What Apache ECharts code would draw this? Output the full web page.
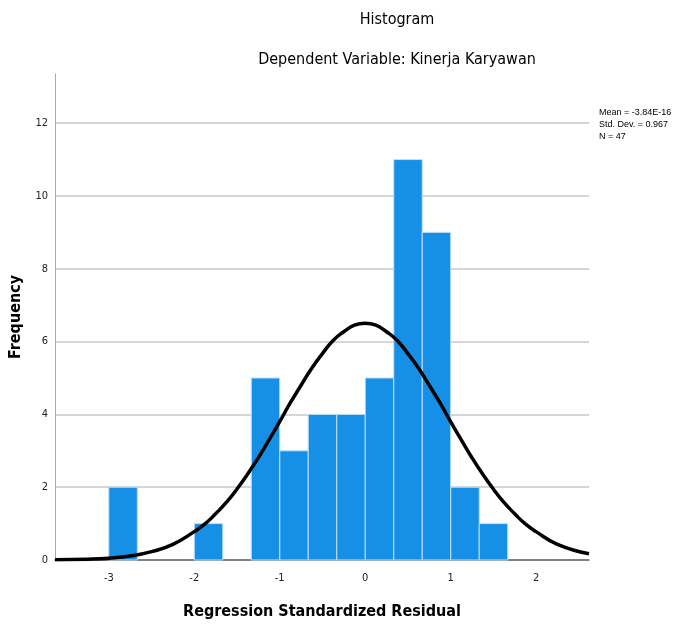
<!DOCTYPE html>
<html>
<head>
<meta charset="utf-8">
<script src="https://cdn.jsdelivr.net/npm/echarts@6/dist/echarts.min.js"></script>
<style>
html,body{margin:0;padding:0;background:#fff;}
#c{width:675px;height:628px;}
</style>
</head>
<body>
<div id="c"></div>
<script>
// Histogram bins: start of each bin, common bin width, and frequency
var binStarts = [-3.0, -2.0, -1.333, -0.999, -0.666, -0.332, 0.001, 0.335, 0.668, 1.002, 1.335];
var binWidth = 0.3335;
var frequencies = [2, 1, 5, 3, 4, 4, 5, 11, 9, 2, 1];
// Normal curve
var curveX = [-3.63, -3.25, -3, -2.75, -2.5, -2.25, -2, -1.875, -1.75, -1.625, -1.5, -1.375, -1.25, -1.125, -1, -0.875, -0.75, -0.625, -0.5, -0.375, -0.25, -0.125, 0,
              0.125, 0.25, 0.375, 0.5, 0.625, 0.75, 0.875, 1, 1.125, 1.25, 1.375, 1.5, 1.625, 1.75, 1.875, 2, 2.25, 2.62];
var curveY = [0.01, 0.023, 0.05, 0.11, 0.23, 0.43, 0.78, 0.99, 1.27, 1.58, 1.95, 2.36, 2.81, 3.30, 3.8, 4.32, 4.8, 5.27, 5.67, 6.03, 6.27, 6.45, 6.5,
              6.45, 6.27, 6.03, 5.67, 5.27, 4.8, 4.32, 3.8, 3.30, 2.81, 2.36, 1.95, 1.58, 1.27, 0.99, 0.78, 0.43, 0.17];
var yTicks = [0, 2, 4, 6, 8, 10, 12];
var statsText = ['Mean = -3.84E-16', 'Std. Dev. = 0.967', 'N = 47'];

var FONT = '"Liberation Sans Narrow", "DejaVu Sans Condensed", "Liberation Sans", Arial, sans-serif';

var barData = binStarts.map(function (s, i) { return [s, s + binWidth, frequencies[i]]; });
var lineData = curveX.map(function (x, i) { return [x, curveY[i]]; });

var chart = echarts.init(document.getElementById('c'), null, {renderer: 'canvas'});
chart.setOption({
  backgroundColor: '#fff',
  animation: false,
  title: [
    {text: 'Histogram', left: 392, top: 7, textAlign: 'center',
     textStyle: {fontFamily: FONT, fontSize: 16, fontWeight: 'normal', color: '#000'}},
    {text: 'Dependent Variable: Kinerja Karyawan', left: 392, top: 47, textAlign: 'center',
     textStyle: {fontFamily: FONT, fontSize: 16, fontWeight: 'normal', color: '#000'}},
    {text: statsText.join('\n'), left: 594, top: 102,
     textStyle: {fontFamily: 'Liberation Sans, Arial, sans-serif', fontSize: 9, fontWeight: 'normal', color: '#000', lineHeight: 12}}
  ],
  grid: {left: 55, right: 86, top: 74, bottom: 68, containLabel: false},
  xAxis: {
    type: 'value', min: -3.63, max: 2.62, minInterval: 1, maxInterval: 1,
    name: 'Regression Standardized Residual', nameLocation: 'middle', nameGap: 44,
    nameTextStyle: {fontFamily: FONT, fontSize: 16, fontWeight: 'bold', color: '#000'},
    axisLine: {show: true, onZero: false, lineStyle: {color: '#666', width: 1.5}},
    axisTick: {show: false},
    splitLine: {show: false},
    axisLabel: {fontFamily: FONT, fontSize: 11, color: '#222', margin: 13,
      showMinLabel: false, showMaxLabel: false,
      formatter: function (v) { return Math.abs(v - Math.round(v)) < 1e-6 ? String(Math.round(v)) : ''; }}
  },
  yAxis: {
    type: 'value', min: 0, max: 13.35, interval: 2,
    name: 'Frequency', nameLocation: 'middle', nameGap: 31,
    nameTextStyle: {fontFamily: FONT, fontSize: 16, fontWeight: 'bold', color: '#000'},
    axisLine: {show: true, onZero: false, lineStyle: {color: '#aaa', width: 1}},
    axisTick: {show: false},
    splitLine: {show: true, showMaxLine: false, lineStyle: {color: '#c8c8c8', width: 1.5}},
    axisLabel: {fontFamily: FONT, fontSize: 11, color: '#222', margin: 7, showMaxLabel: false,
      formatter: function (v) { return yTicks.indexOf(v) >= 0 ? String(v) : ''; }}
  },
  series: [
    {
      type: 'custom',
      data: barData,
      renderItem: function (params, api) {
        var p0 = api.coord([api.value(0), api.value(2)]);
        var p1 = api.coord([api.value(1), 0]);
        return {
          type: 'rect',
          shape: {x: p0[0], y: p0[1], width: p1[0] - p0[0], height: p1[1] - p0[1]},
          style: {fill: '#1590e6', stroke: '#bfe0f8', lineWidth: 1}
        };
      },
      z: 2
    },
    {
      type: 'line',
      data: lineData,
      smooth: 0.5,
      showSymbol: false,
      lineStyle: {color: '#000', width: 3.5},
      z: 3
    }
  ]
});
</script>
</body>
</html>
